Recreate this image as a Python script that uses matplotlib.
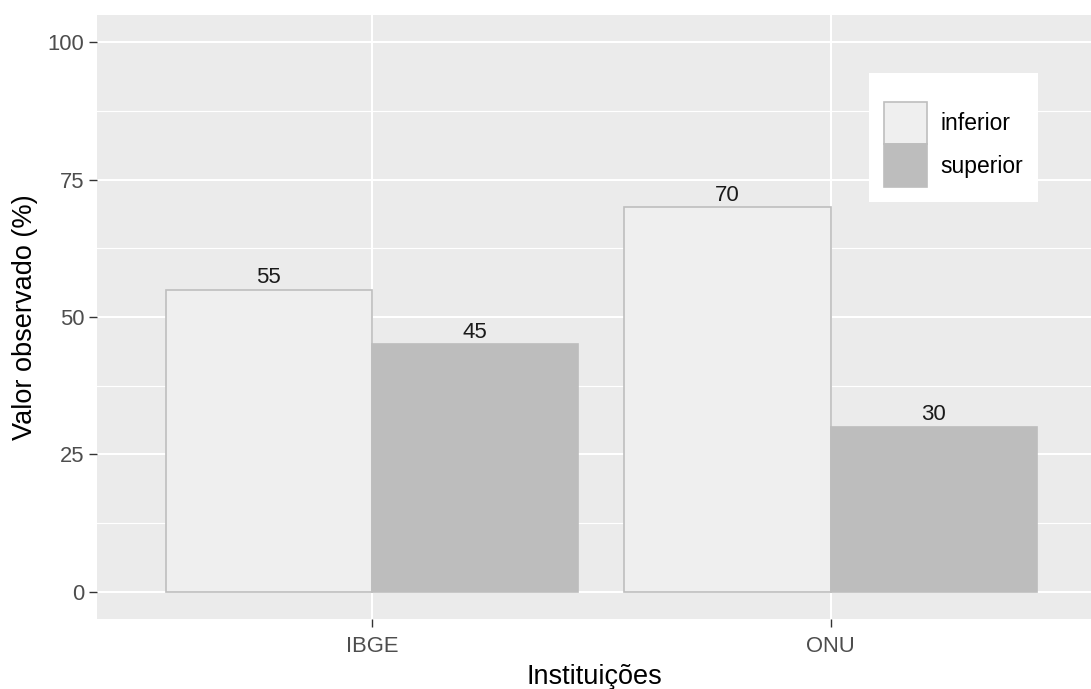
import matplotlib
matplotlib.use("Agg")
import matplotlib.pyplot as plt
import numpy as np
from matplotlib.patches import Patch
from matplotlib.ticker import FixedLocator

categories = ["IBGE", "ONU"]
groups = ["inferior", "superior"]
inferior = [55, 70]
superior = [45, 30]
y_ticks = [0, 25, 50, 75, 100]
y_minor = [12.5, 37.5, 62.5, 87.5]

plt.rcParams['font.family'] = ['Liberation Sans', 'DejaVu Sans']

W, H = 1091, 689
fig = plt.figure(figsize=(W / 100, H / 100), dpi=100)
ax = fig.add_axes([97 / W, 1 - 619 / H, (W - 97) / W, (619 - 15) / H])
ax.set_facecolor('#EBEBEB')

fill_inf, fill_sup, edge = '#EFEFEF', '#BDBDBD', '#BEBEBE'
x = np.arange(1, len(categories) + 1)
width = 0.45
b1 = ax.bar(x - width / 2, inferior, width, color=fill_inf, edgecolor=edge,
            linewidth=1.2, zorder=3)
b2 = ax.bar(x + width / 2, superior, width, color=fill_sup, edgecolor=fill_sup,
            linewidth=1.2, zorder=3)

for bars in (b1, b2):
    ax.bar_label(bars, labels=[f"{v:g}" for v in bars.datavalues], padding=1.2,
                 fontsize=16, color='#1A1A1A', zorder=4)

ax.set_xlim(0.4, 2.568)
ax.set_ylim(-5, 105)
ax.set_xticks(x)
ax.set_xticklabels(categories)
ax.yaxis.set_major_locator(FixedLocator(y_ticks))
ax.yaxis.set_minor_locator(FixedLocator(y_minor))
ax.set_axisbelow(True)
ax.grid(which='major', color='white', linewidth=1.5)
ax.grid(which='minor', axis='y', color='white', linewidth=0.8)
for s in ax.spines.values():
    s.set_visible(False)
ax.tick_params(axis='both', which='major', length=5.5, width=1, color='#333333',
               labelcolor='#4D4D4D', labelsize=15.8, pad=3.5)
ax.tick_params(axis='x', which='major', pad=6.7)
ax.tick_params(axis='y', which='minor', length=0)

ax.set_xlabel('Instituições', fontsize=19.5, color='black', labelpad=5)
ax.set_ylabel('Valor observado (%)', fontsize=19.5, color='black', labelpad=7)

handles = [Patch(facecolor=fill_inf, edgecolor=edge, linewidth=1.2),
           Patch(facecolor=fill_sup, edgecolor=fill_sup, linewidth=1.2)]
leg = ax.legend(handles=handles, labels=groups, loc='upper left',
                bbox_to_anchor=(869 / W, 1 - 73 / H), bbox_transform=fig.transFigure,
                frameon=True, fancybox=False, edgecolor='white', facecolor='white',
                framealpha=1, fontsize=16.5, handlelength=1.88, handleheight=2.476,
                labelspacing=0, borderpad=0.65, handletextpad=0.57, borderaxespad=0,
                title=' ', title_fontsize=10)
leg.get_frame().set_linewidth(0)

fig.savefig('out.png', dpi=100, facecolor='white')
